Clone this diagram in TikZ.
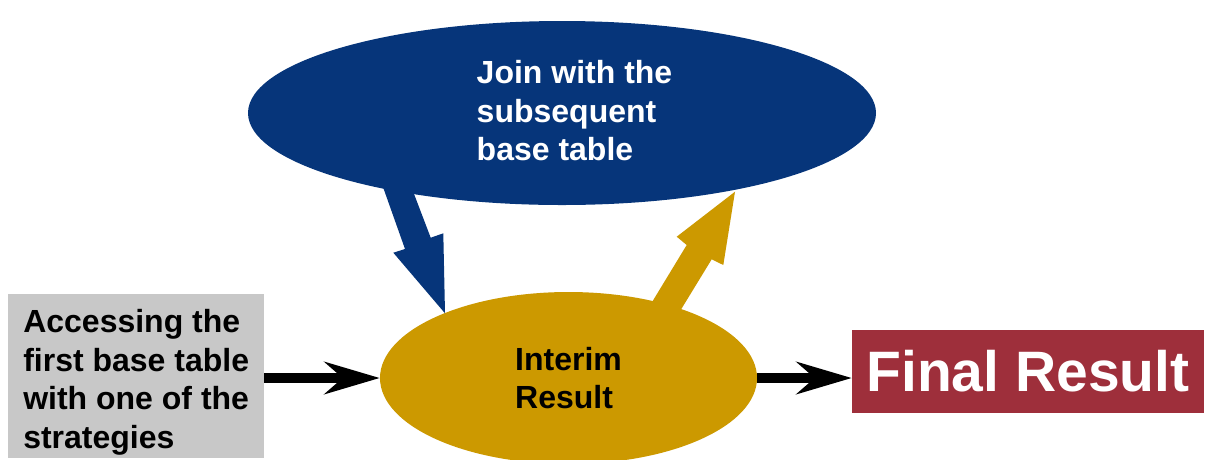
\documentclass[tikz,border=0pt]{standalone}
\usepackage{fontspec}
\setmainfont{Liberation Sans}
\usetikzlibrary{shapes.geometric,arrows.meta}
\definecolor{joinblue}{HTML}{06357A}
\definecolor{interimgold}{HTML}{CC9900}
\definecolor{accgray}{HTML}{C8C8C8}
\definecolor{finalred}{HTML}{9E2F3B}
\begin{document}
\begin{tikzpicture}[x=1pt,y=-1pt,
  txt/.style={font=\fontsize{32pt}{38.5pt}\selectfont\bfseries},
  link/.style={line width=10pt,-{Stealth[length=55pt,width=32pt,inset=18pt]}},
  blockarrow/.style={draw=none}]
\useasboundingbox (0,0) rectangle (1206,459);
% Join ellipse
\node[ellipse, fill=joinblue, minimum width=628pt, minimum height=184pt, inner sep=0pt] (join) at (562,113) {};
\node[txt, text=white, align=left, inner sep=0pt] (jointext) at (574.5,111) {Join with the\\subsequent\\base table};
% Interim ellipse
\node[ellipse, fill=interimgold, minimum width=377pt, minimum height=172pt, inner sep=0pt, txt, align=left] (interim) at (568.5,378) {Interim\\Result};
% Access box
\node[rectangle, fill=accgray, minimum width=256pt, minimum height=164pt, inner sep=0pt, anchor=north west] (access) at (8,294) {};
\node[txt, align=left, inner sep=0pt] (accesstext) at ([yshift=-6pt]access.center) {Accessing the\\first base table\\with one of the\\strategies};
% Final box
\node[rectangle, fill=finalred, minimum width=352pt, minimum height=83pt, inner sep=0pt, text=white, font=\fontsize{57pt}{68pt}\selectfont\bfseries] (final) at (1028,371.5) {Final Result};
% block arrows
\fill[joinblue, blockarrow] (375,164.5) -- (405,249) -- (393.3,252.7) -- (445,313.3) -- (443.3,233.3) -- (430.7,237.7) -- (406.6,174.5) -- cycle;
\fill[interimgold, blockarrow] (642.9,317.1) -- (686.7,245) -- (676.7,236.7) -- (735,191.7) -- (723.3,265) -- (711.7,259.3) -- (671.3,325.4) -- cycle;
% connectors
\draw[link] (interim.west -| access.east) -- (interim.west);
\draw[link] (interim.east) -- (interim.east -| final.west);
\end{tikzpicture}
\end{document}
